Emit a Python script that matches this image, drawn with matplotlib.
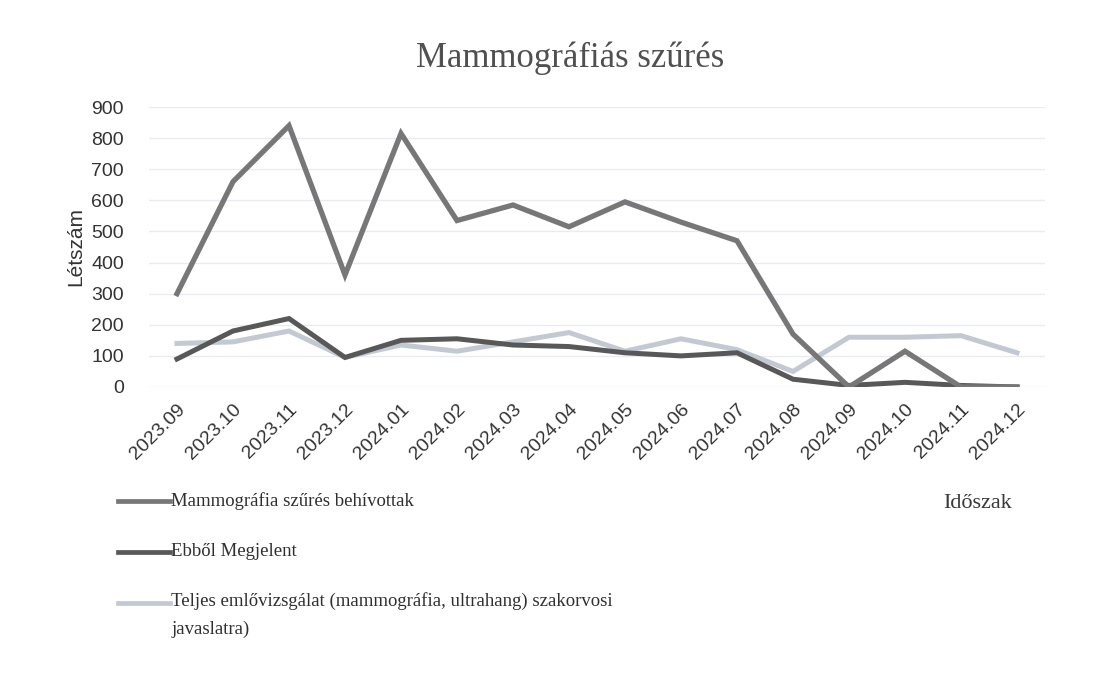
import matplotlib
matplotlib.use("Agg")
import matplotlib.pyplot as plt
from matplotlib.lines import Line2D

periods = ["2023.09", "2023.10", "2023.11", "2023.12", "2024.01", "2024.02",
           "2024.03", "2024.04", "2024.05", "2024.06", "2024.07", "2024.08",
           "2024.09", "2024.10", "2024.11", "2024.12"]
behivottak = [300, 660, 840, 360, 815, 535, 585, 515, 595, 530, 470, 170,
              0, 115, 0, 0]
megjelent = [90, 180, 220, 95, 150, 155, 135, 130, 110, 100, 110, 25,
             5, 15, 5, 0]
teljes = [140, 145, 180, 95, 135, 115, 145, 175, 115, 155, 120, 50,
          160, 160, 165, 110]
yticks = [0, 100, 200, 300, 400, 500, 600, 700, 800, 900]

labels = ["Mammográfia szűrés behívottak",
          "Ebből Megjelent",
          "Teljes emlővizsgálat (mammográfia, ultrahang) szakorvosi\njavaslatra)"]
colors = ["#777777", "#585858", "#c3c9d3"]

serif = ["Liberation Serif", "DejaVu Serif"]
sans = ["Liberation Sans", "DejaVu Sans"]

fig = plt.figure(figsize=(11.11, 6.85), dpi=100)
fig.patch.set_facecolor("white")
ax = fig.add_axes([149 / 1111, 1 - 387 / 685, (1045 - 149) / 1111, (387 - 107) / 685])

x = list(range(len(periods)))
# draw lighter first so darker on top
ax.plot(x, teljes, color=colors[2], lw=3.6, solid_joinstyle="miter", zorder=3)
ax.plot(x, megjelent, color=colors[1], lw=3.6, solid_joinstyle="miter", zorder=4)
ax.plot(x, behivottak, color=colors[0], lw=3.8, solid_joinstyle="miter", zorder=5)

ax.set_xlim(-0.5, len(periods) - 0.5)
ax.set_ylim(0, 900)
ax.set_yticks(yticks)
ax.set_yticklabels([str(v) for v in yticks], family=sans, fontsize=14, color="#333333")
ax.set_xticks(x)
ax.set_xticklabels(periods, family=sans, fontsize=14, color="#333333",
                   rotation=45, ha="right", va="top", rotation_mode="anchor")
ax.tick_params(axis="both", length=0)
ax.tick_params(axis="x", pad=10)
ax.tick_params(axis="y", pad=18)
ax.grid(axis="y", color="#e8ecf2", lw=1.0)
ax.set_axisbelow(True)
for s in ax.spines.values():
    s.set_visible(False)

ax.set_ylabel("Létszám", family=sans, fontsize=15, color="#333333", labelpad=4)

fig.text(570 / 1111, 1 - 58 / 685, "Mammográfiás szűrés", family=serif,
         fontsize=25, color="#505050", ha="center", va="center")
fig.text(978 / 1111, 1 - 503 / 685, "Időszak", family=serif,
         fontsize=16, color="#3a3a3a", ha="center", va="center")

# legend (manual, handle aligned with first text line)
rows = [501, 552, 603]
for lab, col, yy in zip(labels, colors, rows):
    yf = 1 - yy / 685
    fig.add_artist(Line2D([118 / 1111, 170 / 1111], [yf, yf], color=col, lw=3.4,
                          transform=fig.transFigure))
    if "\n" in lab:
        fig.text(171 / 1111, 1 - (yy - 11) / 685, lab, family=serif, fontsize=13.5,
                 color="#2f2f2f", ha="left", va="top", linespacing=1.8)
    else:
        fig.text(171 / 1111, yf, lab, family=serif, fontsize=13.5, color="#2f2f2f",
                 ha="left", va="center")

fig.savefig("out.png", dpi=100, facecolor="white")
